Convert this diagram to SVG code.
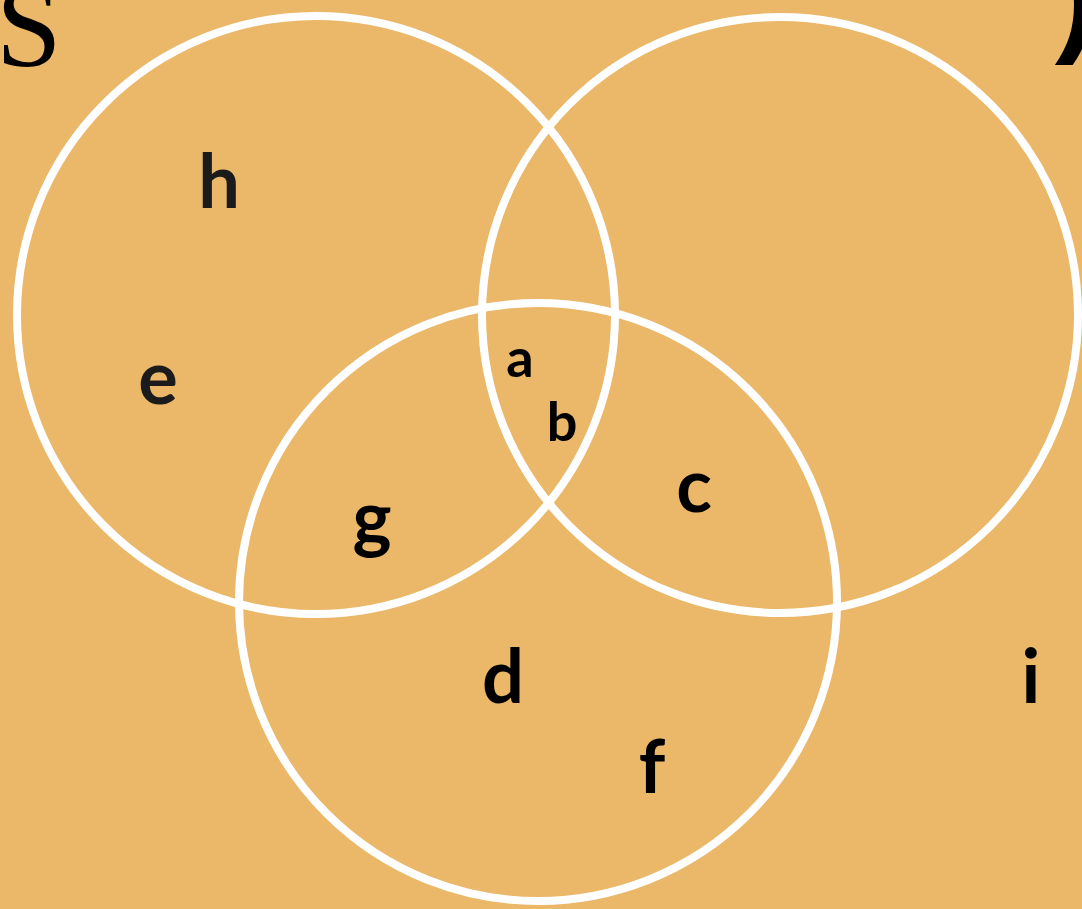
<svg xmlns="http://www.w3.org/2000/svg" width="1082" height="909" viewBox="0 0 1082 909">
<style>
.ring{fill:none;stroke:#ffffff;stroke-width:8}
.lbl{font-family:Lato,"Liberation Sans",sans-serif;font-weight:700;text-anchor:middle;fill:#000}
.big{font-size:74px}
.small{font-size:54px}
.grey{fill:#1b1b1b}
.corner{font-family:"Liberation Serif",serif;fill:#000}
</style>
<rect x="0" y="0" width="1082" height="909" fill="#EBB769"/>
<text class="corner" x="-4" y="66" font-size="118">S</text>
<text x="1098" y="38" text-anchor="end" font-family="Liberation Sans, sans-serif" font-size="130" font-weight="700" fill="#000">)</text>
<g id="circles">
<g id="circleLeft"><circle class="ring" cx="316" cy="315" r="299"/></g>
<g id="circleRight"><circle class="ring" cx="780" cy="315" r="298"/></g>
<g id="circleBottom"><circle class="ring" cx="538" cy="602" r="299"/></g>
</g>
<g id="connectors"></g>
<g id="labels">
<g id="h"><text class="lbl big grey" x="219" y="208">h</text></g>
<g id="e"><text class="lbl big grey" x="158" y="404">e</text></g>
<g id="a"><text class="lbl small" x="520" y="377">a</text></g>
<g id="b"><text class="lbl small" x="562" y="441">b</text></g>
<g id="g"><text class="lbl big" x="372" y="544">g</text></g>
<g id="c"><text class="lbl big" x="694" y="512">c</text></g>
<g id="d"><text class="lbl big" x="503" y="703">d</text></g>
<g id="f"><text class="lbl big" x="652" y="793">f</text></g>
<g id="i"><text class="lbl big" x="1031" y="703">i</text></g>
</g>
</svg>
